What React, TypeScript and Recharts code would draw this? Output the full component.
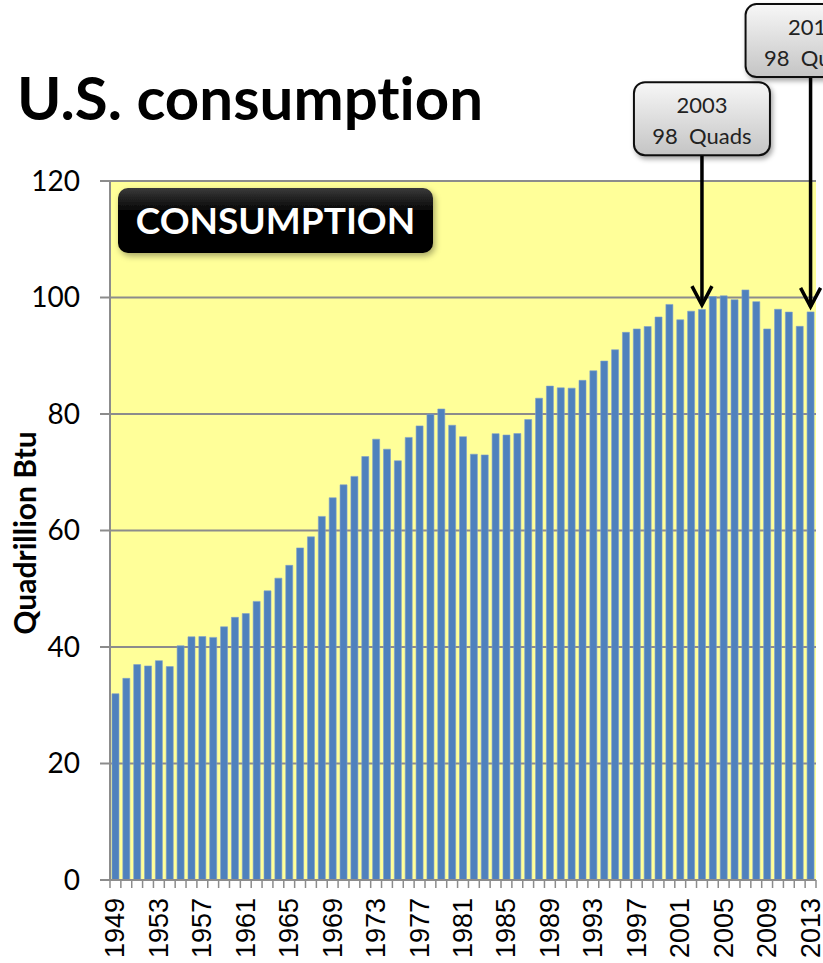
import React from 'react';
import { BarChart, Bar, XAxis, YAxis, CartesianGrid, ReferenceLine, ReferenceDot } from 'recharts';

const years = [
  '1949', '1950', '1951', '1952', '1953', '1954', '1955', '1956', '1957', '1958',
  '1959', '1960', '1961', '1962', '1963', '1964', '1965', '1966', '1967', '1968',
  '1969', '1970', '1971', '1972', '1973', '1974', '1975', '1976', '1977', '1978',
  '1979', '1980', '1981', '1982', '1983', '1984', '1985', '1986', '1987', '1988',
  '1989', '1990', '1991', '1992', '1993', '1994', '1995', '1996', '1997', '1998',
  '1999', '2000', '2001', '2002', '2003', '2004', '2005', '2006', '2007', '2008',
  '2009', '2010', '2011', '2012', '2013',
];

// quadrillion Btu
const consumption = [
  31.98, 34.62, 36.98, 36.75, 37.66, 36.64, 40.21, 41.75, 41.79, 41.65,
  43.47, 45.09, 45.74, 47.83, 49.64, 51.82, 54.02, 57.01, 58.91, 62.42,
  65.62, 67.84, 69.29, 72.70, 75.68, 73.96, 71.97, 75.98, 77.96, 79.96,
  80.86, 78.07, 76.11, 73.10, 72.97, 76.63, 76.39, 76.65, 79.05, 82.71,
  84.79, 84.49, 84.44, 85.78, 87.42, 89.09, 91.03, 94.02, 94.60, 95.02,
  96.65, 98.81, 96.17, 97.65, 97.94, 100.16, 100.28, 99.62, 101.30, 99.29,
  94.60, 97.98, 97.50, 95.05, 97.53,
];

const yTicks = [0, 20, 40, 60, 80, 100, 120];
const labelYears = ['1949', '1953', '1957', '1961', '1965', '1969', '1973', '1977', '1981',
  '1985', '1989', '1993', '1997', '2001', '2005', '2009', '2013'];

// callouts: year, label lines, box centre (value), arrow start / tip (value)
const callouts = [
  { year: '2003', top: '2003', bottom: '98  Quads', boxY: 130.7, from: 124.5, tip: 98.7, dx: 0 },
  { year: '2013', top: '2013', bottom: '98  Quads', boxY: 144.1, from: 138.0, tip: 98.4, dx: 3 },
];

const data = years.map((year, i) => ({ year, value: consumption[i] }));

const W = 823;
const H = 963;
const PLOT_LEFT = 110;
const PLOT_RIGHT = 816;
const BAND = (PLOT_RIGHT - PLOT_LEFT) / years.length;
const CAL = 'Lato, "Open Sans", sans-serif';
const noLiga = { fontVariantLigatures: 'none' as const, fontFeatureSettings: '"liga" 0' };

function YearTick(props: any) {
  const { x, y, payload, index } = props;
  const ty = y + 18;
  return (
    <g>
      <line x1={x - BAND / 2} x2={x - BAND / 2} y1={y} y2={y + 8} stroke="#8c8c8c" strokeWidth={1.5} />
      {index === years.length - 1 && (
        <line x1={x + BAND / 2} x2={x + BAND / 2} y1={y} y2={y + 8} stroke="#8c8c8c" strokeWidth={1.5} />
      )}
      {labelYears.includes(payload.value) && (
        <text
          x={x} y={ty}
          transform={`rotate(-90, ${x}, ${ty})`}
          textAnchor="end" dominantBaseline="central"
          fontFamily='"Liberation Sans", Arial, sans-serif' fontSize={27} fill="#000"
        >
          {payload.value}
        </text>
      )}
    </g>
  );
}

function Arrow(props: any) {
  const { x1, y1, x2, y2 } = props;
  return (
    <g>
      <line x1={x1} y1={y1} x2={x2} y2={y2} stroke="#000" strokeWidth={3.5} />
      <polyline
        points={`${x2 - 10},${y2 - 19} ${x2},${y2} ${x2 + 10},${y2 - 19}`}
        fill="none" stroke="#000" strokeWidth={3.5} strokeLinejoin="miter"
      />
    </g>
  );
}

function calloutBox(c: typeof callouts[number]) {
  return (props: any) => {
    const cx = props.cx + c.dx;
    const cy = props.cy;
    const id = `cb${c.year}`;
    return (
      <g>
        <defs>
          <linearGradient id={`${id}g`} x1="0" y1="0" x2="0" y2="1">
            <stop offset="0%" stopColor="#f7f7f7" />
            <stop offset="100%" stopColor="#c4c4c4" />
          </linearGradient>
          <filter id={`${id}s`} x="-20%" y="-20%" width="140%" height="150%">
            <feDropShadow dx="2" dy="3" stdDeviation="2.5" floodColor="#000" floodOpacity="0.35" />
          </filter>
        </defs>
        <rect
          x={cx - 68} y={cy - 36.5} width={136} height={73} rx={11}
          fill={`url(#${id}g)`} stroke="#111" strokeWidth={2} filter={`url(#${id}s)`}
        />
        <text x={cx} y={cy - 6} textAnchor="middle" fontFamily={CAL} fontSize={22} fill="#222">{c.top}</text>
        <text x={cx} y={cy + 25} textAnchor="middle" fontFamily={CAL} fontSize={22} fill="#222" style={{ whiteSpace: 'pre' }}>
          {c.bottom}
        </text>
      </g>
    );
  };
}

export default function App() {
  return (
    <div style={{ position: 'absolute', left: 0, top: 0, width: W, height: H, overflow: 'hidden', background: '#fff' }}>
      <BarChart
        width={W} height={H} data={data}
        margin={{ top: 181, right: W - PLOT_RIGHT, left: 0, bottom: 0 }}
        barCategoryGap="18%"
      >
        <CartesianGrid vertical={false} fill="#FFFF99" stroke="#8c8c8c" strokeWidth={2} />
        <XAxis
          dataKey="year" interval={0} height={83}
          tick={(p: any) => <YearTick {...p} />}
          tickLine={false} tickSize={0} tickMargin={0}
          axisLine={{ stroke: '#8c8c8c', strokeWidth: 2 }}
        />
        <YAxis
          width={PLOT_LEFT} domain={[0, 120]} ticks={yTicks} interval={0}
          tickSize={10} tickMargin={20}
          tick={{ fontFamily: CAL, fontSize: 28, fill: '#000' }}
          tickLine={{ stroke: '#8c8c8c', strokeWidth: 2 }}
          axisLine={{ stroke: '#8c8c8c', strokeWidth: 2 }}
        />
        <Bar dataKey="value" fill="#4F81BD" stroke="#7f9fcc" strokeWidth={0.6} isAnimationActive={false} />
        {callouts.map((c) => (
          <ReferenceLine
            key={`l${c.year}`}
            segment={[{ x: c.year, y: c.from }, { x: c.year, y: c.tip }]}
            ifOverflow="visible"
            shape={(p: any) => <Arrow {...p} />}
          />
        ))}
        {callouts.map((c) => (
          <ReferenceDot
            key={`d${c.year}`}
            x={c.year} y={c.boxY} r={1}
            ifOverflow="visible"
            shape={calloutBox(c)}
          />
        ))}
      </BarChart>

      <svg width={W} height={H} style={{ position: 'absolute', left: 0, top: 0, pointerEvents: 'none', ...noLiga }}>
        <defs>
          <linearGradient id="consGloss" x1="0" y1="0" x2="0" y2="1">
            <stop offset="0%" stopColor="#3a3a3a" />
            <stop offset="35%" stopColor="#050505" />
            <stop offset="100%" stopColor="#000" />
          </linearGradient>
          <filter id="consShadow" x="-10%" y="-20%" width="120%" height="160%">
            <feDropShadow dx="2" dy="3" stdDeviation="3" floodColor="#000" floodOpacity="0.35" />
          </filter>
        </defs>
        <text x={17} y={120} fontFamily={CAL} fontWeight={700} fontSize={60} fill="#000" style={noLiga}>
          U.S. consumption
        </text>
        <text
          x={0} y={0}
          transform="translate(36, 533) rotate(-90)"
          textAnchor="middle" fontFamily={CAL} fontWeight={700} fontSize={30} fill="#000"
        >
          Quadrillion Btu
        </text>
        <rect x={118} y={188} width={315} height={65} rx={10} fill="url(#consGloss)" filter="url(#consShadow)" />
        <text x={275.5} y={234} textAnchor="middle" fontFamily={CAL} fontWeight={700} fontSize={37} fill="#fff">
          CONSUMPTION
        </text>
      </svg>
    </div>
  );
}
